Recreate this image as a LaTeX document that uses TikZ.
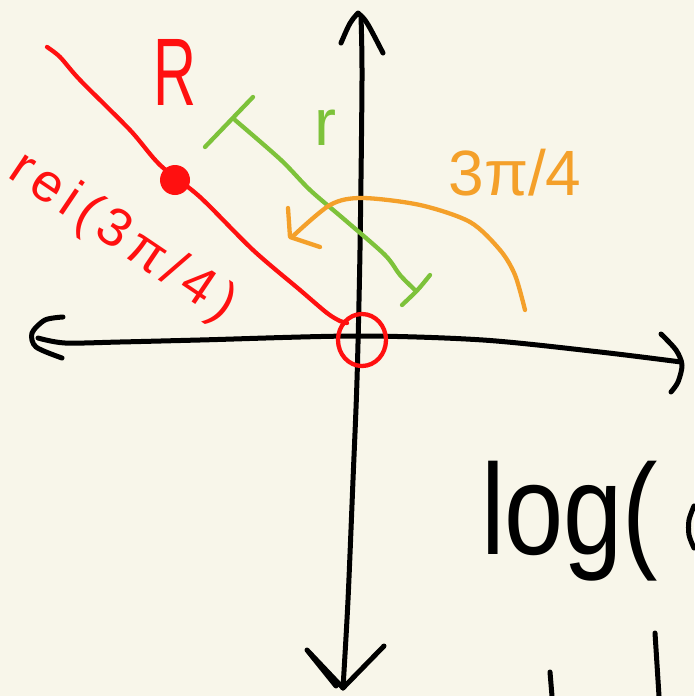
\documentclass[tikz,border=0pt]{standalone}
\usepackage{fontspec}
\setmainfont{Liberation Sans}
\definecolor{bgc}{HTML}{F8F6EA}
\definecolor{inkc}{HTML}{000000}
\definecolor{redc}{HTML}{FF1010}
\definecolor{greenc}{HTML}{7DC23A}
\definecolor{orangec}{HTML}{F4A02A}
\begin{document}
\begin{tikzpicture}[x=1pt,y=-1pt,
  pen/.style={line width=5pt,line cap=round,line join=round},
  blackpen/.style={pen,draw=inkc},
  redpen/.style={pen,draw=redc,line width=4.3pt},
  greenpen/.style={pen,draw=greenc,line width=4.3pt},
  orangepen/.style={pen,draw=orangec,line width=4.3pt},
  label/.style={inner sep=0pt,outer sep=0pt}]
\fill[bgc] (0,0) rectangle (694,696);
\useasboundingbox (0,0) rectangle (694,696);
% vertical axis
\draw[blackpen] plot[smooth] coordinates {(343,688) (348,600) (353,480) (357,380) (360,250) (362,80) (361,17)};
\draw[blackpen] (341,43) .. controls (350,22) .. (358,13) .. controls (366,20) .. (383,53);
\draw[blackpen] (384,646) -- (343,688) -- (307,650) -- (336,686);
% horizontal axis
\draw[blackpen] plot[smooth] coordinates {(38,338) (65,343) (120,342) (200,340) (357,336) (483,340) (600,352) (681,362)};
\draw[blackpen] plot[smooth] coordinates {(63,317) (45,320) (32,333) (36,347) (62,358)};
\draw[blackpen] plot[smooth] coordinates {(661,334) (676,350) (682,365) (678,382) (671,392)};
% red ray, point and origin
\draw[redpen] plot[smooth] coordinates {(47,47) (60,57) (80,80) (130,130) (160,165) (200,197) (253,250) (300,290) (327,313) (340,321) (347,323)};
\draw[redpen] (362,340) ellipse [x radius=24, y radius=26];
\fill[redc] (175,180) circle (15);
\node[label,text=redc,font=\fontsize{96}{96}\selectfont] (R) at (175,72) {\scalebox{0.62}[1]{R}};
\node[label,text=redc,font=\fontsize{54}{54}\selectfont\addfontfeature{LetterSpace=12},rotate=-34] (polar) at (122,238) {rei(3π/4)};
% green length r
\draw[greenpen] (205,147) -- (253,97);
\draw[greenpen] plot[smooth] coordinates {(235,120) (281,160) (310,190) (345,220) (385,255) (400,275) (415,290)};
\draw[greenpen] (430,275) .. controls (418,290) .. (402,305);
\node[label,text=greenc,font=\fontsize{66}{66}\selectfont] (r) at (325,128) {r};
% orange angle
\draw[orangepen] plot[smooth] coordinates {(525,310) (515,275) (500,250) (470,222) (420,205) (362,198) (330,205) (292,237)};
\draw[orangepen] (288,208) -- (290,237) -- (320,247);
\node[label,text=orangec,font=\fontsize{64}{64}\selectfont] (ang) at (515,173) {3π/4};
% log text
\node[label,anchor=base west,text=inkc,font=\fontsize{112}{112}\selectfont] (log) at (481,554) {\scalebox{0.95}[1.15]{log(}};
\draw[blackpen] plot[smooth] coordinates {(694,506) (689,520) (689,535) (694,548)};
\draw[blackpen] (550,672) -- (552,696);
\draw[blackpen] (655,633) -- (659,696);
\end{tikzpicture}
\end{document}
